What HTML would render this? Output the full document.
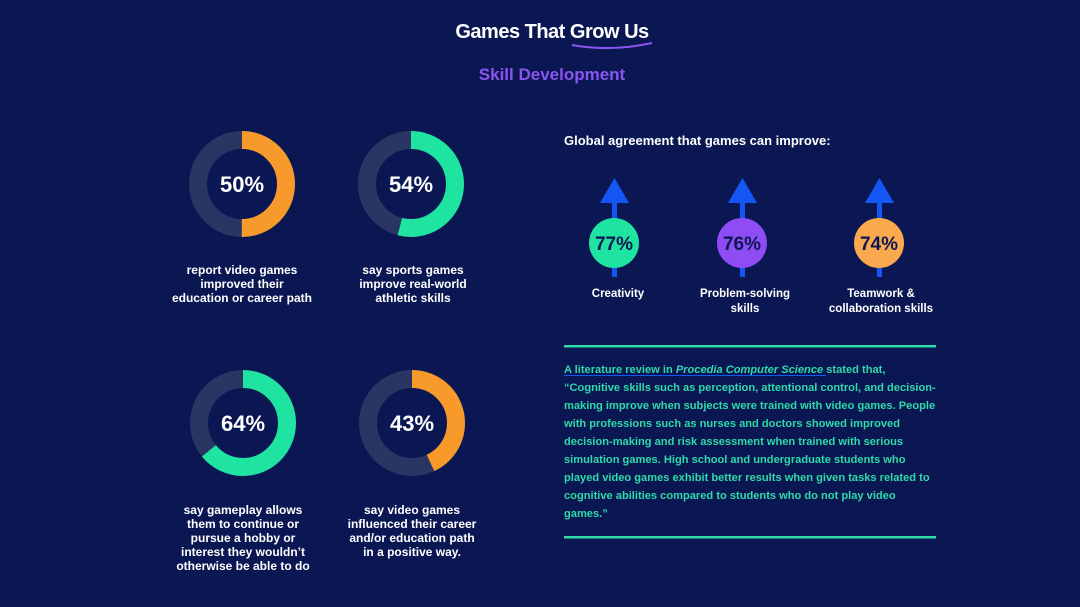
<!DOCTYPE html>
<html><head><meta charset="utf-8"><style>
body{margin:0;width:1080px;height:607px;background:#0b1752;overflow:hidden;font-family:"Liberation Sans",sans-serif}
svg{position:absolute;left:0;top:0}
</style></head><body>
<svg width="1080" height="607" viewBox="0 0 1080 607" font-family="Liberation Sans, sans-serif" font-weight="bold">
<text x="552" y="38" text-anchor="middle" fill="#fff" font-size="20" letter-spacing="-0.5">Games That Grow Us</text>
<path d="M572 45 Q610 52 652 43" stroke="#8a55f0" stroke-width="2" fill="none"/>
<text x="552" y="80" text-anchor="middle" fill="#8a55f0" font-size="17">Skill Development</text>

<g fill="none" stroke-width="18">
<circle cx="242" cy="184" r="44" stroke="#293562"/>
<circle cx="242" cy="184" r="44" stroke="#f7992b" stroke-dasharray="138.2 276.5" transform="rotate(-90 242 184)"/>
<circle cx="411" cy="184" r="44" stroke="#293562"/>
<circle cx="411" cy="184" r="44" stroke="#1fe3a0" stroke-dasharray="149.3 276.5" transform="rotate(-90 411 184)"/>
<circle cx="243" cy="423" r="44" stroke="#293562"/>
<circle cx="243" cy="423" r="44" stroke="#1fe3a0" stroke-dasharray="177 276.5" transform="rotate(-90 243 423)"/>
<circle cx="412" cy="423" r="44" stroke="#293562"/>
<circle cx="412" cy="423" r="44" stroke="#f7992b" stroke-dasharray="118.9 276.5" transform="rotate(-90 412 423)"/>
</g>
<g fill="#fff" font-size="22" text-anchor="middle">
<text x="242" y="192">50%</text><text x="411" y="192">54%</text>
<text x="243" y="431">64%</text><text x="412" y="431">43%</text>
</g>
<g fill="#fff" font-size="12" text-anchor="middle">
<text x="242" y="274">report video games</text><text x="242" y="288">improved their</text><text x="242" y="302">education or career path</text>
<text x="413" y="274">say sports games</text><text x="413" y="288">improve real-world</text><text x="413" y="302">athletic skills</text>
<text x="243" y="514">say gameplay allows</text><text x="243" y="528">them to continue or</text><text x="243" y="542">pursue a hobby or</text><text x="243" y="556">interest they wouldn’t</text><text x="243" y="570">otherwise be able to do</text>
<text x="412" y="514">say video games</text><text x="412" y="528">influenced their career</text><text x="412" y="542">and/or education path</text><text x="412" y="556">in a positive way.</text>
</g>

<text x="564" y="145" fill="#fff" font-size="13">Global agreement that games can improve:</text>
<g fill="#1457f5">
<rect x="612" y="195" width="5" height="82"/><polygon points="600,203 629,203 614.5,178"/>
<rect x="740" y="195" width="5" height="82"/><polygon points="728,203 757,203 742.5,178"/>
<rect x="877" y="195" width="5" height="82"/><polygon points="865,203 894,203 879.5,178"/>
</g>
<circle cx="614" cy="243" r="25" fill="#1fe3a0"/>
<circle cx="742" cy="243" r="25" fill="#8e4cf5"/>
<circle cx="879" cy="243" r="25" fill="#fba94e"/>
<g fill="#0b1752" font-size="19" text-anchor="middle">
<text x="614" y="250">77%</text><text x="742" y="250">76%</text><text x="879" y="250">74%</text>
</g>
<g fill="#fff" font-size="11.5" text-anchor="middle">
<text x="618" y="297">Creativity</text>
<text x="745" y="297">Problem-solving</text><text x="745" y="312">skills</text>
<text x="881" y="297">Teamwork &amp;</text><text x="881" y="312">collaboration skills</text>
</g>

<rect x="564" y="345" width="372" height="2.5" fill="#2fd9aa"/>
<rect x="564" y="536" width="372" height="2.5" fill="#2fd9aa"/>
<g fill="#2fd9aa" font-size="11.1" font-weight="bold">
<text x="564" y="373">A literature review in <tspan font-style="italic">Procedia Computer Science</tspan> stated that,</text>
<rect x="564" y="375" width="262" height="1" fill="#1457f5"/>
<text x="564" y="391">“Cognitive skills such as perception, attentional control, and decision-</text>
<text x="564" y="409">making improve when subjects were trained with video games. People</text>
<text x="564" y="427">with professions such as nurses and doctors showed improved</text>
<text x="564" y="445">decision-making and risk assessment when trained with serious</text>
<text x="564" y="463">simulation games. High school and undergraduate students who</text>
<text x="564" y="481">played video games exhibit better results when given tasks related to</text>
<text x="564" y="499">cognitive abilities compared to students who do not play video</text>
<text x="564" y="517">games.”</text>
</g>
</svg>
</body></html>
